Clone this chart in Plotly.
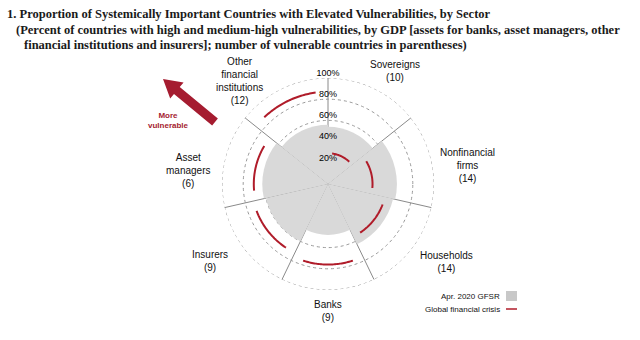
import numpy as np
import plotly.graph_objects as go

# ---------------- data ----------------
categories = ["Sovereigns", "Nonfinancial<br>firms", "Households", "Banks",
              "Insurers", "Asset<br>managers", "Other<br>financial<br>institutions"]
counts = [10, 14, 14, 9, 9, 6, 12]
gfsr_2020 = [54, 65, 63, 48, 60, 62, 56]          # Apr. 2020 GFSR (grey wedges)
gfc = [29, 42, 55, 76, 72, 70, 87]                 # Global financial crisis (red arcs)
radial_ticks = [20, 40, 60, 80, 100]
tick_labels = [f"{v}%" for v in radial_ticks]

# ---------------- layout helpers ----------------
W, H = 640, 340
def px(x):
    return x / W
def py(y):
    return 1 - y / H

n = len(categories)
step = 360 / n
theta_c = [i * step for i in range(n)]
boundaries = [t + step / 2 for t in theta_c]

RED = "#b01c2a"
ARROW_RED = "#a51c30"
GREY = "#d9d9d9"
GRID = "#999999"

fig = go.Figure()

fig.add_trace(go.Barpolar(
    r=gfsr_2020, theta=theta_c, width=[step] * n,
    marker=dict(color=GREY, line=dict(width=0)),
    showlegend=False, hoverinfo="skip"))

# outer grid circle at the top radial tick (plotly skips the grid at the range edge)
ring_t = np.linspace(0, 360, 361)
fig.add_trace(go.Scatterpolar(
    r=[radial_ticks[-1]] * len(ring_t), theta=ring_t, mode="lines",
    line=dict(color=GRID, width=1, dash="dot"),
    cliponaxis=False, showlegend=False, hoverinfo="skip"))

half_span = 18
arc_r, arc_t = [], []
for tc, v in zip(theta_c, gfc):
    ts = np.linspace(tc - half_span, tc + half_span, 40)
    arc_t += list(ts) + [None]
    arc_r += [v] * len(ts) + [None]
fig.add_trace(go.Scatterpolar(
    r=arc_r, theta=arc_t, mode="lines",
    line=dict(color=RED, width=2), connectgaps=False,
    showlegend=False, hoverinfo="skip"))

fig.add_trace(go.Scatterpolar(
    r=radial_ticks, theta=[boundaries[-1]] * len(radial_ticks),
    mode="text", text=tick_labels, textposition="top center",
    textfont=dict(family="Liberation Sans", size=9, color="#000"),
    cliponaxis=False, showlegend=False, hoverinfo="skip"))

fig.update_layout(
    width=W, height=H,
    margin=dict(l=0, r=0, t=0, b=0),
    paper_bgcolor="white", plot_bgcolor="white",
    polar=dict(
        domain=dict(x=[px(222), px(434)], y=[py(290), py(78)]),
        bgcolor="white",
        radialaxis=dict(range=[0, 100], tickvals=radial_ticks, showticklabels=False,
                        ticks="", showline=False, gridcolor=GRID,
                        griddash="dot", gridwidth=1, angle=90),
        angularaxis=dict(tickvals=boundaries, showticklabels=False, ticks="",
                         direction="clockwise", rotation=90 - step / 2,
                         gridcolor="#8a8a8a", gridwidth=1, showline=False),
    ),
)

# ---------------- title ----------------
title_font = dict(family="Liberation Serif", size=12.5, color="#1a1a1a")
title_lines = [
    ("<b>1. Proportion of Systemically Important Countries with Elevated Vulnerabilities, by Sector</b>", 5, 14),
    ("<b>(Percent of countries with high and medium-high vulnerabilities, by GDP [assets for banks, asset managers, other</b>", 14, 30),
    ("<b>financial institutions and insurers]; number of vulnerable countries in parentheses)</b>", 22, 45),
]
for txt, x, y in title_lines:
    fig.add_annotation(text=txt, x=px(x), y=py(y), xref="paper", yref="paper",
                       xanchor="left", yanchor="middle", showarrow=False,
                       font=title_font)

# ---------------- category labels ----------------
label_pos = [(395, 71), (467, 165), (446, 262), (328, 311),
             (210, 261), (188, 170), (239, 81)]
for cat, c, (x, y) in zip(categories, counts, label_pos):
    fig.add_annotation(text=f"{cat}<br>({c})", x=px(x), y=py(y),
                       xref="paper", yref="paper", xanchor="center", yanchor="middle",
                       showarrow=False, align="center",
                       font=dict(family="Liberation Sans", size=10, color="#111"))

# ---------------- "More vulnerable" arrow ----------------
tip = np.array([163.0, 79.0])
tail = np.array([215.0, 122.0])
u = (tip - tail) / np.linalg.norm(tip - tail)
nrm = np.array([-u[1], u[0]])
head_len, shaft_hw, head_hw = 18, 4.5, 10.5
neck = tip - u * head_len
pts = [tail + nrm * shaft_hw, neck + nrm * shaft_hw, neck + nrm * head_hw, tip,
       neck - nrm * head_hw, neck - nrm * shaft_hw, tail - nrm * shaft_hw]
path = "M " + " L ".join(f"{px(p[0]):.5f},{py(p[1]):.5f}" for p in pts) + " Z"
fig.add_shape(type="path", path=path, xref="paper", yref="paper",
              fillcolor=ARROW_RED, line=dict(width=0))
fig.add_annotation(text="<b>More<br>vulnerable</b>", x=px(168), y=py(120),
                   xref="paper", yref="paper", xanchor="center", yanchor="middle",
                   showarrow=False, align="center",
                   font=dict(family="Liberation Sans", size=8, color=ARROW_RED))

# ---------------- legend (manual) ----------------
leg_font = dict(family="Liberation Sans", size=8, color="#111")
fig.add_annotation(text="Apr. 2020 GFSR", x=px(502), y=py(296), xref="paper", yref="paper",
                   xanchor="right", yanchor="middle", showarrow=False, font=leg_font)
fig.add_annotation(text="Global financial crisis", x=px(502), y=py(309), xref="paper", yref="paper",
                   xanchor="right", yanchor="middle", showarrow=False, font=leg_font)
fig.add_shape(type="rect", x0=px(506), x1=px(517), y0=py(301), y1=py(291),
              xref="paper", yref="paper", fillcolor="#c8c8c8", line=dict(width=0))
fig.add_shape(type="line", x0=px(506), x1=px(517), y0=py(309), y1=py(309),
              xref="paper", yref="paper", line=dict(color=RED, width=1.5))

fig.write_html("out.html")
